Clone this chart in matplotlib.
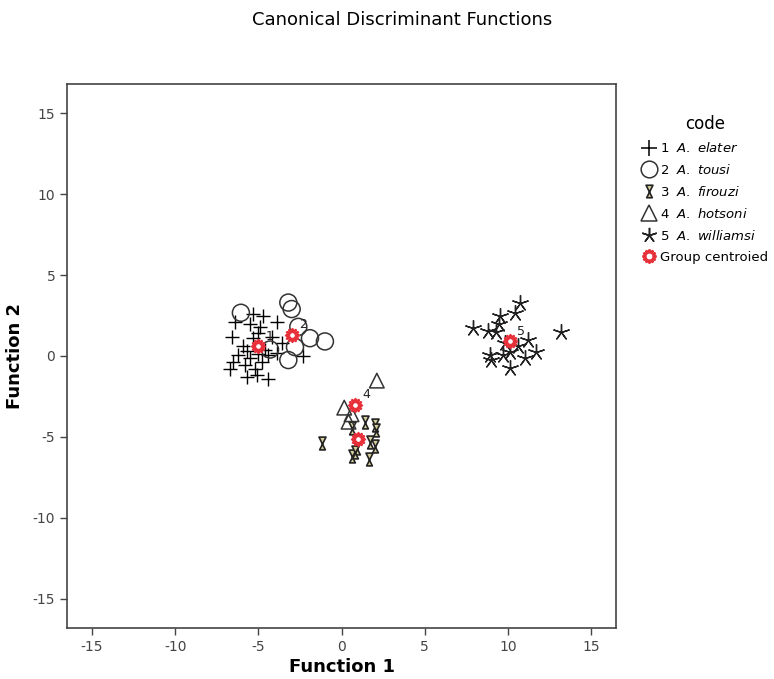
import matplotlib.pyplot as plt
from matplotlib.lines import Line2D
from matplotlib.path import Path

plt.rcParams['axes.unicode_minus'] = False

# function 1 / function 2 scores per group
g1_x = [-5.3, -4.7, -6.4, -5.5, -3.9, -4.9, -5.0, -6.6, -5.3, -4.2, -2.3, -5.7, -6.2, -5.5,
        -4.8, -6.5, -4.4, -6.7, -5.2, -5.7, -5.1, -4.4, -5.8, -3.9, -3.6, -5.9, -4.6, -5.0]
g1_y = [2.6, 2.5, 2.1, 2.0, 2.1, 1.8, 1.4, 1.2, 1.1, 1.2, 0.0, 0.3, 0.06, -0.15,
        -0.35, -0.35, 0.06, -0.8, -0.8, -1.3, -1.2, -1.4, -0.55, 0.16, 0.8, 0.6, 0.4, 0.1]
g2_x = [-6.05, -3.2, -3.0, -1.9, -1.0, -2.6, -2.8, -3.2, -4.3]
g2_y = [2.67, 3.3, 2.9, 1.1, 0.9, 1.8, 0.55, -0.25, 0.4]
g3_x = [-1.15, 0.62, 1.42, 2.0, 2.06, 1.68, 1.98, 0.92, 0.62, 1.66, 0.8]
g3_y = [-5.4, -4.47, -4.06, -4.26, -4.57, -5.29, -5.56, -5.7, -6.2, -6.38, -5.95]
g4_x = [2.12, 0.16, 0.42, 0.6]
g4_y = [-1.52, -3.19, -4.06, -3.6]
g5_x = [10.7, 10.4, 7.9, 8.8, 9.5, 9.46, 13.2, 11.2, 10.6, 11.7, 11.0, 10.1, 9.7, 8.9, 8.98, 10.1, 9.8, 9.3]
g5_y = [3.25, 2.67, 1.7, 1.56, 2.47, 2.0, 1.5, 1.0, 0.6, 0.27, -0.14, 0.27, 0.06, 0.06, -0.25, -0.76, 0.78, 1.5]

cent_x = [-5.0, -3.0, 1.0, 0.8, 10.1]
cent_y = [0.6, 1.3, -5.1, -3.0, 0.9]
cent_lab = ['1', '2', '3', '4', '5']

codes = ['1', '2', '3', '4', '5']
species = ['A. elater', 'A. tousi', 'A. firouzi', 'A. hotsoni', 'A. williamsi']

# hourglass marker: bars at top/bottom with crossing sides
hourglass = Path([(-0.55, 1), (0.55, 1), (-0.45, -1), (0.45, -1), (-0.55, 1)],
                 [Path.MOVETO, Path.LINETO, Path.LINETO, Path.LINETO, Path.CLOSEPOLY])

fig = plt.figure(figsize=(7.74, 6.79), dpi=100)
ax = fig.add_axes([0.0866, 0.0751, 0.7094, 0.8012])

ax.scatter(g1_x, g1_y, marker='+', s=110, c='black', linewidths=1.0, zorder=3)
ax.scatter(g2_x, g2_y, marker='o', s=150, facecolors='none', edgecolors='#333333', linewidths=1.1, zorder=3)
ax.scatter(g3_x, g3_y, marker=hourglass, s=85, facecolors='#d6cf9c', edgecolors='#222222', linewidths=1.2, zorder=3)
ax.scatter(g4_x, g4_y, marker='^', s=110, facecolors='none', edgecolors='#333333', linewidths=1.1, zorder=3)
ax.scatter(g5_x, g5_y, marker=(5, 2, 0), s=130, c='#222222', linewidths=1.0, zorder=3)
ax.scatter(cent_x, cent_y, marker=(12, 1, 0), s=90, facecolors='white', edgecolors='#e8303a', linewidths=1.6, zorder=4)
for x, y, t in zip(cent_x, cent_y, cent_lab):
    if t != '3':
        ax.text(x + 0.45, y + 0.4, t, fontsize=9, color='#222222', zorder=5)

ax.set_xlim(-16.5, 16.5)
ax.set_ylim(-16.8, 16.8)
ax.set_xticks([-15, -10, -5, 0, 5, 10, 15])
ax.set_yticks([-15, -10, -5, 0, 5, 10, 15])
ax.tick_params(labelsize=10, colors='#444444', length=5, width=1)
for sp in ax.spines.values():
    sp.set_color('#444444')
    sp.set_linewidth(1.2)

ax.set_xlabel('Function 1', fontsize=13, fontweight='bold', labelpad=3)
ax.set_ylabel('Function 2', fontsize=13, fontweight='bold', labelpad=6)
fig.text(0.52, 0.97, 'Canonical Discriminant Functions', fontsize=13, ha='center', va='center')

# legend
handles = [
    Line2D([], [], marker='+', ls='', color='black', ms=11, mew=1.1),
    Line2D([], [], marker='o', ls='', mfc='none', mec='#333333', ms=12, mew=1.1),
    Line2D([], [], marker=hourglass, ls='', mfc='#d6cf9c', mec='#222222', ms=9, mew=1.2),
    Line2D([], [], marker='^', ls='', mfc='none', mec='#333333', ms=11, mew=1.1),
    Line2D([], [], marker=(5, 2, 0), ls='', color='#222222', ms=11, mew=1.1),
    Line2D([], [], marker=(12, 1, 0), ls='', mfc='white', mec='#e8303a', ms=10, mew=1.6),
]
labels = [c + '  $\\mathit{' + s.replace(' ', '\\ ') + '}$' for c, s in zip(codes, species)]
labels.append('Group centroied')
leg = fig.legend(handles, labels, loc='upper left', bbox_to_anchor=(0.822, 0.84), frameon=False,
                 title='code', fontsize=9.5, title_fontsize=12, handlelength=1.0, handletextpad=0.3,
                 labelspacing=0.6, borderpad=0)
leg._legend_box.align = 'left'
leg.get_title().set_position((42, 0))

fig.savefig('out.png', dpi=100)
